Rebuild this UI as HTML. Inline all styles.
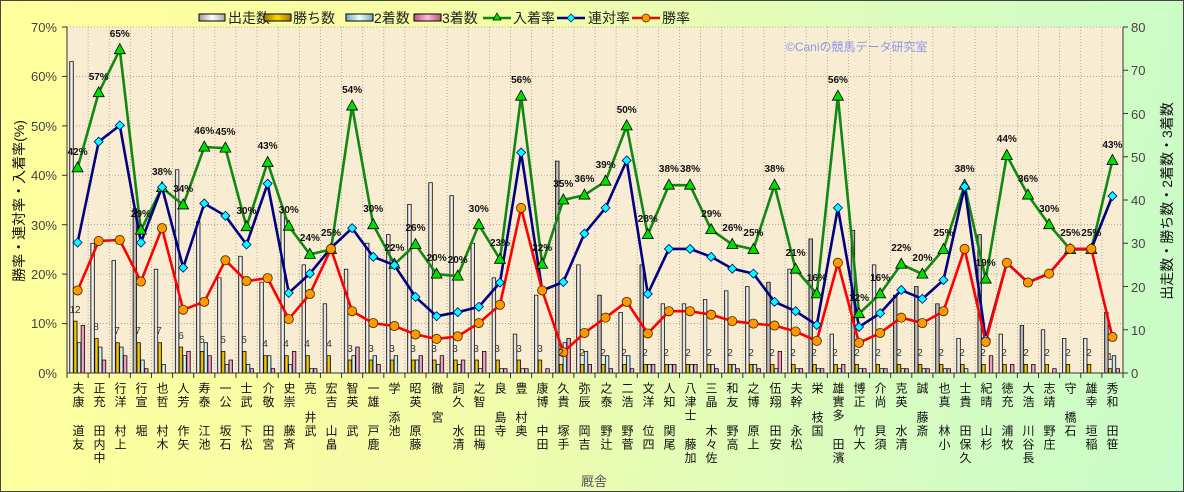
<!DOCTYPE html>
<html><head><meta charset="utf-8">
<style>
html,body{margin:0;padding:0;}
#c{position:relative;width:1182px;height:490px;border:1px solid #444;overflow:hidden;
background:linear-gradient(100deg,#ffff9c 0%,#f4fca8 40%,#d8fcc0 75%,#c8fcc8 100%);
font-family:"Liberation Sans","Noto Sans CJK JP",sans-serif;}
svg{position:absolute;left:0;top:0;}
.n{position:absolute;top:381px;writing-mode:vertical-rl;text-orientation:upright;direction:rtl;unicode-bidi:bidi-override;
font-size:12px;letter-spacing:1.5px;line-height:14px;color:#111;white-space:pre;width:14px;}
</style></head><body>
<div id="c">
<svg id="s" width="1182" height="490" xmlns="http://www.w3.org/2000/svg" font-family="Liberation Sans, Noto Sans CJK JP, sans-serif">
<defs>
<linearGradient id="gs" x1="0" x2="1"><stop offset="0" stop-color="#999"/><stop offset=".5" stop-color="#fff"/><stop offset="1" stop-color="#aaa"/></linearGradient>
<linearGradient id="gg" x1="0" x2="1"><stop offset="0" stop-color="#777"/><stop offset=".5" stop-color="#ccc"/><stop offset="1" stop-color="#777"/></linearGradient>
<linearGradient id="gw" x1="0" x2="1"><stop offset="0" stop-color="#a07800"/><stop offset=".5" stop-color="#ffd700"/><stop offset="1" stop-color="#a07800"/></linearGradient>
<linearGradient id="g2" x1="0" x2="1"><stop offset="0" stop-color="#7ab"/><stop offset=".5" stop-color="#e8ffff"/><stop offset="1" stop-color="#7ab"/></linearGradient>
<linearGradient id="g3" x1="0" x2="1"><stop offset="0" stop-color="#b57"/><stop offset=".5" stop-color="#fbd"/><stop offset="1" stop-color="#b57"/></linearGradient>
</defs>
<rect x="66" y="26" width="1056" height="346" fill="#f8ecd2"/>
<g id="grid"></g>
<g id="bars"></g>
<g id="lines"></g>
<line x1="66" y1="26" x2="66" y2="372" stroke="#333"/>
<line x1="66" y1="372" x2="1122" y2="372" stroke="#333"/>
<line x1="1122" y1="26" x2="1122" y2="372" stroke="#333"/>
<g font-size="13" fill="#444" text-anchor="end">
<text x="56" y="31">70%</text><text x="56" y="80">60%</text><text x="56" y="130">50%</text><text x="56" y="179">40%</text><text x="56" y="229">30%</text><text x="56" y="278">20%</text><text x="56" y="327">10%</text><text x="56" y="377">0%</text>
</g>
<g font-size="13" fill="#444">
<text x="1130" y="31">80</text><text x="1130" y="74">70</text><text x="1130" y="118">60</text><text x="1130" y="161">50</text><text x="1130" y="204">40</text><text x="1130" y="247">30</text><text x="1130" y="291">20</text><text x="1130" y="334">10</text><text x="1130" y="377">0</text>
</g>
<text transform="translate(23,200) rotate(-90)" font-size="14" text-anchor="middle" fill="#111">勝率・連対率・入着率(%)</text>
<text transform="translate(1171,200) rotate(-90)" font-size="14" text-anchor="middle" fill="#111">出走数・勝ち数・2着数・3着数</text>
<text x="593" y="485" font-size="13" text-anchor="middle" fill="#555">厩舎</text>
<text x="785" y="50" font-size="12" fill="#8c96f0">©Caniの競馬データ研究室</text>
<!-- legend -->
<g font-size="14" fill="#222">
<rect x="198" y="13" width="26" height="7" fill="url(#gs)" stroke="#000"/><text x="227" y="22">出走数</text>
<rect x="263" y="13" width="27" height="7" fill="url(#gw)" stroke="#000"/><text x="292" y="22">勝ち数</text>
<rect x="345" y="13" width="27" height="7" fill="url(#g2)" stroke="#000"/><text x="373" y="22">2着数</text>
<rect x="413" y="13" width="27" height="7" fill="url(#g3)" stroke="#000"/><text x="441" y="22">3着数</text>
<line x1="482" y1="17" x2="510" y2="17" stroke="#118811" stroke-width="2.5"/><polygon points="496,12 500,19 492,19" fill="#00dd00" stroke="#000" stroke-width=".7"/><text x="512" y="22">入着率</text>
<line x1="556" y1="17" x2="584" y2="17" stroke="#000080" stroke-width="2.5"/><polygon points="570,13 574,17 570,21 566,17" fill="#0ff" stroke="#000080" stroke-width=".7"/><text x="587" y="22">連対率</text>
<line x1="631" y1="17" x2="659" y2="17" stroke="#f00" stroke-width="2.5"/><circle cx="645" cy="17" r="4" fill="#f90" stroke="#420" stroke-width=".7"/><text x="661" y="22">勝率</text>
</g>
<g id="pl" font-size="10" font-weight="bold" fill="#111" text-anchor="middle">
<text x="76.6" y="154">42%</text><text x="97.7" y="79">57%</text><text x="118.8" y="36">65%</text><text x="139.9" y="216">29%</text><text x="161.0" y="174">38%</text><text x="182.2" y="191">34%</text><text x="203.3" y="133">46%</text><text x="224.4" y="134">45%</text><text x="245.5" y="213">30%</text><text x="266.6" y="148">43%</text>
<text x="287.8" y="212">30%</text><text x="308.9" y="240">24%</text><text x="330.0" y="235">25%</text><text x="351.1" y="92">54%</text><text x="372.2" y="211">30%</text><text x="393.4" y="250">22%</text><text x="414.5" y="230">26%</text><text x="435.6" y="260">20%</text><text x="456.7" y="262">20%</text><text x="477.8" y="211">30%</text>
<text x="499.0" y="245">23%</text><text x="520.1" y="82">56%</text><text x="541.2" y="250">22%</text><text x="562.3" y="186">35%</text><text x="583.4" y="181">36%</text><text x="604.6" y="167">39%</text><text x="625.7" y="112">50%</text><text x="646.8" y="221">28%</text><text x="667.9" y="171">38%</text><text x="689.0" y="171">38%</text>
<text x="710.2" y="216">29%</text><text x="731.3" y="230">26%</text><text x="752.4" y="235">25%</text><text x="773.5" y="171">38%</text><text x="794.6" y="255">21%</text><text x="815.8" y="280">16%</text><text x="836.9" y="82">56%</text><text x="858.0" y="300">12%</text><text x="879.1" y="280">16%</text><text x="900.2" y="250">22%</text>
<text x="921.4" y="260">20%</text><text x="942.5" y="235">25%</text><text x="963.6" y="171">38%</text><text x="984.7" y="265">19%</text><text x="1005.8" y="141">44%</text><text x="1027.0" y="181">36%</text><text x="1048.1" y="211">30%</text><text x="1069.2" y="235">25%</text><text x="1090.3" y="235">25%</text><text x="1111.4" y="147">43%</text>
</g>
<g font-size="10" fill="#333" text-anchor="middle">
<text x="74" y="312">12</text><text x="95" y="329">8</text><text x="116" y="333">7</text><text x="137" y="333">7</text><text x="158" y="333">7</text><text x="180" y="338">6</text><text x="201" y="342">5</text><text x="222" y="342">5</text><text x="243" y="342">5</text><text x="264" y="346">4</text>
<text x="285" y="346">4</text><text x="306" y="346">4</text><text x="328" y="346">4</text><text x="349" y="351">3</text><text x="370" y="351">3</text><text x="391" y="351">3</text><text x="412" y="351">3</text><text x="433" y="351">3</text><text x="454" y="351">3</text><text x="475" y="351">3</text>
<text x="496" y="351">3</text><text x="518" y="351">3</text><text x="539" y="351">3</text><text x="560" y="355">2</text><text x="581" y="355">2</text><text x="602" y="355">2</text><text x="623" y="355">2</text><text x="644" y="355">2</text><text x="665" y="355">2</text><text x="687" y="355">2</text>
<text x="708" y="355">2</text><text x="729" y="355">2</text><text x="750" y="355">2</text><text x="771" y="355">2</text><text x="792" y="355">2</text><text x="813" y="355">2</text><text x="834" y="355">2</text><text x="856" y="355">2</text><text x="877" y="355">2</text><text x="898" y="355">2</text>
<text x="919" y="355">2</text><text x="940" y="355">2</text><text x="961" y="355">2</text><text x="982" y="355">2</text><text x="1003" y="355">2</text><text x="1025" y="355">2</text><text x="1046" y="355">2</text><text x="1067" y="355">2</text><text x="1088" y="355">2</text><text x="1109" y="359">1</text>
</g>
</svg>
<div class="n" style="left:70px">友道 康夫</div><div class="n" style="left:91px">中内田 充正</div><div class="n" style="left:112px">上村 洋行</div><div class="n" style="left:133px">堀 宣行</div><div class="n" style="left:154px">木村 哲也</div><div class="n" style="left:175px">矢作 芳人</div><div class="n" style="left:196px">池江 泰寿</div><div class="n" style="left:217px">石坂 公一</div><div class="n" style="left:238px">松下 武士</div><div class="n" style="left:260px">宮田 敬介</div>
<div class="n" style="left:281px">斉藤 崇史</div><div class="n" style="left:302px">武井 亮</div><div class="n" style="left:323px">畠山 吉宏</div><div class="n" style="left:344px">武 英智</div><div class="n" style="left:365px">鹿戸 雄一</div><div class="n" style="left:386px">池添 学</div><div class="n" style="left:407px">藤原 英昭</div><div class="n" style="left:429px">宮 徹</div><div class="n" style="left:450px">清水 久詞</div><div class="n" style="left:471px">梅田 智之</div>
<div class="n" style="left:492px">寺島 良</div><div class="n" style="left:513px">奥村 豊</div><div class="n" style="left:534px">田中 博康</div><div class="n" style="left:555px">手塚 貴久</div><div class="n" style="left:576px">吉岡 辰弥</div><div class="n" style="left:598px">辻野 泰之</div><div class="n" style="left:619px">菅野 浩二</div><div class="n" style="left:640px">四位 洋文</div><div class="n" style="left:661px">尾関 知人</div><div class="n" style="left:682px">加藤 士津八</div>
<div class="n" style="left:703px">佐々木 晶三</div><div class="n" style="left:724px">高野 友和</div><div class="n" style="left:745px">上原 博之</div><div class="n" style="left:767px">安田 翔伍</div><div class="n" style="left:788px">松永 幹夫</div><div class="n" style="left:809px">国枝 栄</div><div class="n" style="left:830px">濱田 多實雄</div><div class="n" style="left:851px">大竹 正博</div><div class="n" style="left:872px">須貝 尚介</div><div class="n" style="left:893px">清水 英克</div>
<div class="n" style="left:914px">斎藤 誠</div><div class="n" style="left:936px">小林 真也</div><div class="n" style="left:957px">久保田 貴士</div><div class="n" style="left:978px">杉山 晴紀</div><div class="n" style="left:999px">牧浦 充徳</div><div class="n" style="left:1020px">長谷川 浩大</div><div class="n" style="left:1041px">庄野 靖志</div><div class="n" style="left:1062px">石橋 守</div><div class="n" style="left:1083px">稲垣 幸雄</div><div class="n" style="left:1104px">笹田 和秀</div>
</div>
<script>
(function(){
var NS="http://www.w3.org/2000/svg";
function el(t,a,p){var e=document.createElementNS(NS,t);for(var k in a)e.setAttribute(k,a[k]);p.appendChild(e);return e;}
var S=[72,30,26,38,24,47,35,22,27,21,37,25,16,24,30,32,39,44,41,30,22,9,18,49,25,18,14,25,16,16,17,19,20,21,24,31,9,33,25,18,20,16,8,32,9,11,10,8,8,14];
var W=[12,8,7,7,7,6,5,5,5,4,4,4,4,3,3,3,3,3,3,3,3,3,3,2,2,2,2,2,2,2,2,2,2,2,2,2,2,2,2,2,2,2,2,2,2,2,2,2,2,1];
var P2=[7,6,6,3,2,4,7,2,2,4,2,1,0,4,4,4,3,2,2,1,1,1,0,7,5,4,4,2,2,2,2,2,2,1,1,1,1,1,1,1,1,1,1,0,0,0,0,0,0,4];
var P3=[11,3,4,1,0,5,4,3,1,1,5,1,0,6,2,0,4,4,3,5,1,1,1,8,2,1,1,2,2,2,1,1,1,5,1,1,2,1,1,1,1,1,0,4,2,2,1,0,0,1];
var R=[16.7,26.7,26.9,18.5,29.3,12.8,14.4,22.8,18.6,19.2,10.9,16.0,25.1,12.5,10.1,9.5,7.8,6.9,7.4,10.1,13.8,33.4,16.7,4.2,8.1,11.2,14.4,8.0,12.5,12.5,11.8,10.5,10.0,9.6,8.4,6.5,22.3,6.1,8.1,11.2,10.1,12.5,25.1,6.3,22.3,18.3,20.1,25.1,25.1,7.3];
var B=[26.4,46.8,50.1,26.4,37.6,21.3,34.3,31.8,26.0,38.3,16.2,20.1,25.3,29.3,23.5,21.8,15.4,11.5,12.3,13.4,18.3,44.6,16.7,18.4,28.2,33.4,43.0,16.0,25.1,25.1,23.5,21.1,20.1,14.4,12.5,9.7,33.4,9.3,12.1,16.8,15.0,18.8,37.7,6.8,22.3,18.3,20.1,25.1,25.1,35.8];
var G=[41.5,56.7,65.4,28.9,37.5,34,45.7,45.5,29.6,42.6,29.7,24,25,54,30,22,26,20,19.6,30,23,56,22,35,36,38.8,50,28,38,38,29,26,25,38,21,16,56,12,16,22,20,25,38,19,44,36,30,25,25,43];
var gray={3:1,23:1,25:1,27:1,33:1,35:1,37:1,39:1,40:1,41:1,43:1,45:1,49:1};
var X0=66,CW=21.12,Y0=372,PY=4.943,CY=4.325;
var grid=document.getElementById('grid'),bars=document.getElementById('bars'),lines=document.getElementById('lines');
for(var i=1;i<50;i++){var x=X0+CW*i;el('line',{x1:x,y1:26,x2:x,y2:372,stroke:'#a09a90','stroke-width':.8,'stroke-dasharray':'1,2'},grid);}
for(var j=1;j<=7;j++){var y=Y0-j*10*PY;el('line',{x1:66,y1:y,x2:1122,y2:y,stroke:'#a09a90','stroke-width':.8,'stroke-dasharray':'1,2'},grid);el('line',{x1:61,y1:y,x2:66,y2:y,stroke:'#333'},grid);}
for(var j=0;j<=8;j++){var y=Y0-j*10*CY;el('line',{x1:1122,y1:y,x2:1127,y2:y,stroke:'#333'},grid);}
for(var i=0;i<=50;i++){var x=X0+CW*i;el('line',{x1:x,y1:372,x2:x,y2:377,stroke:'#333'},grid);}
function bar(x,v,f){if(v<=0)return;var h=v*CY;el('rect',{x:x,y:Y0-h,width:3.6,height:h,fill:f,stroke:'#000','stroke-width':.7},bars);}
for(var i=0;i<50;i++){var L=X0+CW*i;
bar(L+2.7,S[i],gray[i]?'url(#gg)':'url(#gs)');bar(L+6.5,W[i],'url(#gw)');bar(L+10.3,P2[i],'url(#g2)');bar(L+14.1,P3[i],'url(#g3)');}
function pts(a){var s=[];for(var i=0;i<50;i++)s.push((X0+CW*(i+.5)).toFixed(1)+','+(Y0-a[i]*PY).toFixed(1));return s.join(' ');}
el('polyline',{points:pts(G),fill:'none',stroke:'#118811','stroke-width':2.6},lines);
el('polyline',{points:pts(B),fill:'none',stroke:'#000080','stroke-width':2.6},lines);
el('polyline',{points:pts(R),fill:'none',stroke:'#ff0000','stroke-width':2.6},lines);
for(var i=0;i<50;i++){var x=X0+CW*(i+.5),y=Y0-G[i]*PY;
el('polygon',{points:x+','+(y-6)+' '+(x+5.5)+','+(y+4)+' '+(x-5.5)+','+(y+4),fill:'#00dd00',stroke:'#000','stroke-width':.8},lines);}
for(var i=0;i<50;i++){var x=X0+CW*(i+.5),y=Y0-B[i]*PY;
el('polygon',{points:x+','+(y-4.5)+' '+(x+4.5)+','+y+' '+x+','+(y+4.5)+' '+(x-4.5)+','+y,fill:'#00ffff',stroke:'#000080','stroke-width':.8},lines);}
for(var i=0;i<50;i++){var x=X0+CW*(i+.5),y=Y0-R[i]*PY;
el('circle',{cx:x,cy:y,r:4.6,fill:'#ff9900',stroke:'#442200','stroke-width':.8},lines);}
})();
</script>
</body></html>
